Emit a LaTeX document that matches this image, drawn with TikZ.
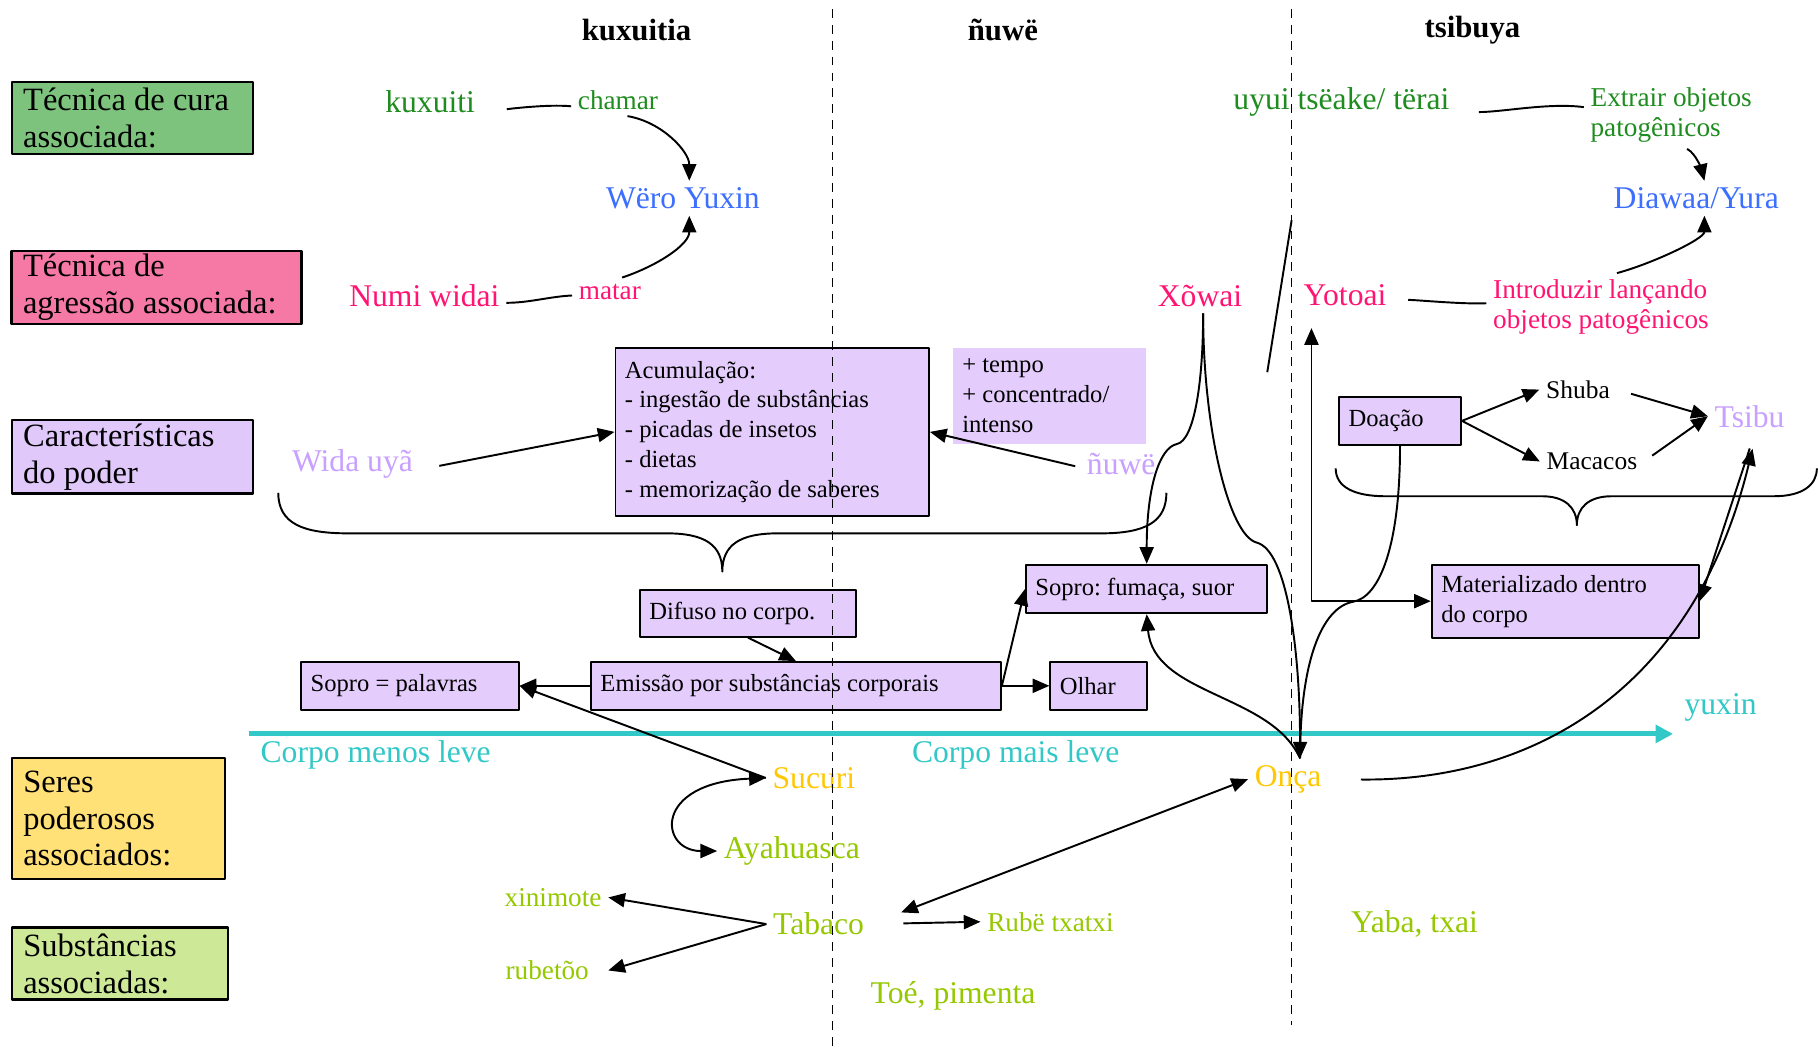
\documentclass[tikz,border=0pt]{standalone}
\usepackage{fontspec}
\setmainfont{Liberation Serif}
\usetikzlibrary{arrows.meta}
\definecolor{curagreen}{RGB}{125,195,125}
\definecolor{agrpink}{RGB}{245,120,165}
\definecolor{podlav}{RGB}{225,200,250}
\definecolor{seryel}{RGB}{255,225,120}
\definecolor{subgreen}{RGB}{205,232,150}
\definecolor{boxlav}{RGB}{228,205,252}
\definecolor{txtgreen}{RGB}{30,140,30}
\definecolor{txtblue}{RGB}{60,110,255}
\definecolor{txtpink}{RGB}{255,20,115}
\definecolor{txtlav}{RGB}{200,160,255}
\definecolor{yuxcyan}{RGB}{50,200,200}
\definecolor{seryellow}{RGB}{255,200,0}
\definecolor{subslime}{RGB}{150,200,0}
\frenchspacing
\begin{document}
\begin{tikzpicture}[x=0.0232cm,y=-0.0232cm,>={Triangle[length=9.5pt,width=8pt]},line join=round,line width=1.1pt]
	\tikzset{
		catbox/.style={draw,line width=1.3pt,align=flush left,inner xsep=0.23cm,inner ysep=2pt,font=\fontsize{18.5}{21}\selectfont},
		procbox/.style={draw,fill=boxlav,line width=1.1pt,align=flush left,inner xsep=0.19cm,inner ysep=2pt,font=\fontsize{14}{17}\selectfont},
		bigtxt/.style={font=\fontsize{18}{21}\selectfont},
		smalltxt/.style={font=\fontsize{15.5}{17}\selectfont,align=flush left},
		headtxt/.style={font=\fontsize{17.5}{21}\selectfont\bfseries},
		plaintxt/.style={font=\fontsize{14.5}{17}\selectfont},
		divider/.style={dash pattern=on 5pt off 4pt,line width=0.9pt},
		yuxinline/.style={draw=yuxcyan,line width=2.8pt,-{Triangle[length=10pt,width=10pt]}}
	}
	\path[fill=white,use as bounding box] (0,0) rectangle (1568,904);
	% categorias
	\node[catbox,fill=curagreen,text width=4.36cm,minimum height=1.44cm] (cura) at (114,102) {Técnica de cura\\associada:};
	\node[catbox,fill=agrpink,text width=5.34cm,minimum height=1.44cm] (agressao) at (135,248) {Técnica de\\agressão associada:};
	\node[catbox,fill=podlav,text width=4.36cm,minimum height=1.44cm] (poder) at (114,394) {Características\\do poder};
	\node[catbox,fill=seryel,text width=3.80cm,minimum height=2.41cm] (seres) at (102,706) {Seres\\poderosos\\associados:};
	\node[catbox,fill=subgreen,text width=3.87cm,minimum height=1.44cm] (subst) at (103.5,831) {Substâncias\\associadas:};
	% colunas
	\node[headtxt] (hkux) at (549,26) {kuxuitia};
	\node[headtxt] (hnuwe) at (865,26) {ñuwë};
	\node[headtxt] (htsi) at (1270,26) {tsibuya};
	% tecnicas
	\node[bigtxt,text=txtgreen] (kuxuiti) at (371,88) {kuxuiti};
	\node[smalltxt,text=txtgreen] (chamar) at (533,86) {chamar};
	\node[bigtxt,text=txtblue] (wero) at (589,171) {Wëro Yuxin};
	\node[bigtxt,text=txtgreen] (uyui) at (1157,88) {uyui tsëake/ tërai};
	\node[smalltxt,text=txtgreen,anchor=west] (extrair) at (1366,99) {Extrair objetos\\patogênicos};
	\node[bigtxt,text=txtblue] (diawaa) at (1463,171) {Diawaa/Yura};
	\node[bigtxt,text=txtpink] (numi) at (366,255) {Numi widai};
	\node[smalltxt,text=txtpink] (matar) at (526,252) {matar};
	\node[bigtxt,text=txtpink] (xowai) at (1035,255) {Xõwai};
	\node[bigtxt,text=txtpink] (yotoai) at (1160,255) {Yotoai};
	\node[smalltxt,text=txtpink,anchor=west] (introduzir) at (1282,265) {Introduzir lançando\\objetos patogênicos};
	% poder
	\node[bigtxt,text=txtlav] (wida) at (304,400) {Wida uyã};
	\node[procbox,text width=5.89cm,minimum height=3.36cm] (acum) at (666,372.5) {Acumulação:\\- ingestão de substâncias\\- picadas de insetos\\- dietas\\- memorização de saberes};
	\node[procbox,draw=none,text width=3.48cm,minimum height=1.93cm] (mais) at (905,341.5) {+ tempo\\+ concentrado/\\intenso};
	\node[bigtxt,text=txtlav] (nuwe) at (967,400) {ñuwë};
	\node[procbox,text width=2.06cm,minimum height=0.97cm] (doacao) at (1207.5,363) {Doação};
	\node[plaintxt] (shuba) at (1361,336) {Shuba};
	\node[plaintxt] (macacos) at (1373,398) {Macacos};
	\node[bigtxt,text=txtlav] (tsibu) at (1509,359) {Tsibu};
	\node[procbox,text width=3.94cm,minimum height=0.93cm] (difuso) at (645,529) {Difuso no corpo.};
	\node[procbox,text width=7.82cm,minimum height=0.95cm] (emissao) at (686.5,591.5) {Emissão por substâncias corporais};
	\node[procbox,text width=3.97cm,minimum height=0.95cm] (soprop) at (353.5,591.5) {Sopro = palavras};
	\node[procbox,text width=1.55cm,minimum height=0.95cm] (olhar) at (947.5,591.5) {Olhar};
	\node[procbox,text width=4.45cm,minimum height=0.97cm] (soprof) at (989,508) {Sopro: fumaça, suor};
	\node[procbox,text width=4.96cm,minimum height=1.46cm] (mater) at (1350,518.5) {Materializado dentro\\do corpo};
	% yuxin
	\node[bigtxt,text=yuxcyan] (corpomenos) at (324,651) {Corpo menos leve};
	\node[bigtxt,text=yuxcyan] (corpomais) at (876,651) {Corpo mais leve};
	\node[bigtxt,text=yuxcyan] (yuxin) at (1484,610) {yuxin};
	\coordinate (yuxA) at (215,633);
	\coordinate (yuxB) at (1443,633);
	\draw[yuxinline] (yuxA) -- (yuxB);
	% seres e substancias
	\node[bigtxt,text=seryellow] (sucuri) at (702,671) {Sucuri};
	\node[bigtxt,text=seryellow] (onca) at (1111,672) {Onça};
	\node[bigtxt,text=subslime] (ayahuasca) at (683,734) {Ayahuasca};
	\node[bigtxt,text=subslime] (tabaco) at (706,797) {Tabaco};
	\node[smalltxt,text=subslime] (xinimote) at (477,774) {xinimote};
	\node[smalltxt,text=subslime] (rubetoo) at (472,837) {rubetõo};
	\node[smalltxt,text=subslime] (rube) at (906,795) {Rubë txatxi};
	\node[bigtxt,text=subslime] (toe) at (822,859) {Toé, pimenta};
	\node[bigtxt,text=subslime] (yaba) at (1220,797) {Yaba, txai};
	% ligacoes das tecnicas
	\draw[shorten <=0.5cm] (kuxuiti.-8) .. controls +(20,0) and +(-20,-2) .. (chamar.188);
	\draw[->] (chamar.-60) .. controls +(30,5) and +(0,-25) .. (wero.70);
	\draw (numi.-5) .. controls +(20,0) and +(-20,1) .. (matar.185);
	\draw[->] (matar.50) .. controls +(30,-10) and +(0,25) .. (wero.-70);
	\draw[shorten <=0.45cm] (uyui.-5) .. controls +(40,0) and +(-30,-4) .. (extrair.175);
	\draw[->] (extrair.-65) .. controls +(8,4) and +(-2,-8) .. (diawaa.65);
	\draw[shorten <=0.3cm] (yotoai.-5) .. controls +(20,0) and +(-20,1) .. (introduzir.178);
	\draw[->] (introduzir.65) .. controls +(30,-8) and +(0,20) .. (diawaa.-65);
	\draw (1114,190) -- (1093,321);
	% acumulacao
	\draw[->,shorten <=0.4cm] (wida.-5) -- (acum.west);
	\draw[->,shorten <=0.1cm] (nuwe.185) -- (acum.east);
	\draw (240,425) .. controls (240,452) and (262,460) .. (300,460) -- (575,460) .. controls (608,460) and (623,470) .. (623,493) .. controls (623,470) and (638,460) .. (671,460) -- (950,460) .. controls (988,460) and (1006,450) .. (1006,425);
	\draw (1152,404) .. controls (1152,420) and (1168,428) .. (1195,428) -- (1330,428) .. controls (1350,428) and (1360,438) .. (1360,453) .. controls (1360,438) and (1370,428) .. (1390,428) -- (1530,428) .. controls (1555,428) and (1567,418) .. (1567,404);
	% emissao
	\draw[->] (difuso.south) -- (emissao.north);
	\draw[->] (emissao.west) -- (soprop.east);
	\draw[->] (emissao.east) -- (olhar.west);
	\draw[->] (emissao.east) -- (soprof.west);
	% xowai, doacao, onca
	\coordinate (xk1) at (1015,383);
	\coordinate (xk2) at (1084,468);
	\coordinate (dk) at (1167,519);
	\draw[->] (xowai.-80) .. controls +(0,60) and +(15,-3) .. (xk1) .. controls +(-15,3) and +(0,-66) .. (soprof.north);
	\draw[->] (xowai.-80) .. controls +(0,100) and +(-24,-6) .. (xk2) .. controls +(26,7) and +(0,-94) .. (onca.60);
	\draw (doacao.south) .. controls +(0,86) and +(23,-4) .. (dk) .. controls +(-27,5) and +(0,-84) .. (onca.60);
	\draw[->] (onca.60) .. controls +(-25,-56) and +(6,70) .. (soprof.south);
	\draw[<->] ([xshift=-0.67cm,yshift=-0.3cm]yotoai.south) |- (mater.west);
	\draw[->] (doacao.east) -- (shuba.west);
	\draw[->] (doacao.east) -- (macacos.west);
	\draw[->,shorten <=0.3cm] (shuba.east) -- (tsibu.west);
	\draw[->,shorten <=0.2cm] (macacos.east) -- (tsibu.west);
	\draw[->,shorten <=0.3cm] (tsibu.-75) -- (mater.east);
	\draw[->,shorten <=0.65cm,shorten >=0.3cm] (onca.east) .. controls +(172,2) and +(-55,225) .. (tsibu.-70);
	% seres
	\draw[->] (sucuri.west) -- (soprop.east);
	\draw[<->] (sucuri.west) .. controls +(-98,4) and +(-50,0) .. (ayahuasca.west);
	\draw[->] (tabaco.west) -- (xinimote.east);
	\draw[->] (tabaco.west) -- (rubetoo.east -| xinimote.east);
	\draw[<->,shorten <=0.65cm] (tabaco.east) -- (onca.west);
	\draw[->,shorten <=0.65cm] (tabaco.east) -- (rube.west);
	% divisorias
	\draw[divider] (718,8) -- (718,904);
	\draw[divider] (1114,8) -- (1114,884);
\end{tikzpicture}
\end{document}
